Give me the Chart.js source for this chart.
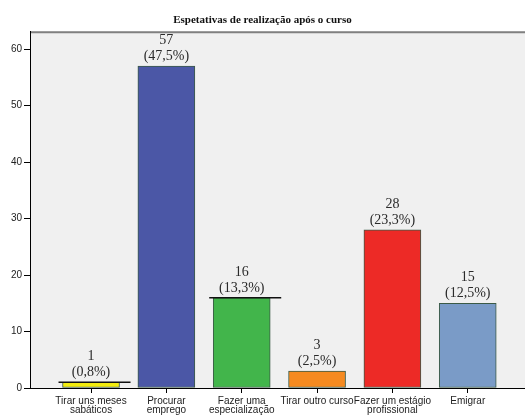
<!DOCTYPE html>
<html>
<head>
<meta charset="utf-8">
<script src="https://cdn.jsdelivr.net/npm/chart.js@4/dist/chart.umd.min.js"></script>
<style>
  body { margin: 0; background: #fff; }
</style>
</head>
<body>
<canvas id="chart" width="525" height="415"></canvas>
<script>
const categories = [
    ['Tirar uns meses', 'sabáticos'],
    ['Procurar', 'emprego'],
    ['Fazer uma', 'especialização'],
    ['Tirar outro curso'],
    ['Fazer um estágio', 'profissional'],
    ['Emigrar']
];
const counts = [1, 57, 16, 3, 28, 15];
const percents = ['0,8%', '47,5%', '13,3%', '2,5%', '23,3%', '12,5%'];
const barColors = ['#f3ec0c', '#4b57a6', '#42b54b', '#f58a20', '#ed2a26', '#7a9bc7'];
const yTicks = [0, 10, 20, 30, 40, 50, 60];
// bars that carry a stray black rule on top in the original
const ruledBars = [0, 2];

// grey plot background + top frame line
const plotBackground = {
    id: 'plotBackground',
    beforeDraw(chart) {
        const { ctx, chartArea } = chart;
        ctx.save();
        ctx.fillStyle = '#f0f0f0';
        ctx.fillRect(chartArea.left, chartArea.top, chartArea.right - chartArea.left, chartArea.bottom - chartArea.top);
        ctx.strokeStyle = '#808080';
        ctx.lineWidth = 2;
        ctx.beginPath();
        ctx.moveTo(chartArea.left, chartArea.top + 1);
        ctx.lineTo(chartArea.right, chartArea.top + 1);
        ctx.stroke();
        ctx.restore();
    }
};

// count and percentage above each bar
const barLabels = {
    id: 'barLabels',
    afterDatasetsDraw(chart) {
        const ctx = chart.ctx;
        const meta = chart.getDatasetMeta(0);
        ctx.save();
        ctx.strokeStyle = '#111';
        ctx.lineWidth = 1.5;
        ruledBars.forEach(i => {
            const bar = meta.data[i];
            ctx.beginPath();
            ctx.moveTo(bar.x - bar.width / 2 - 4, bar.y);
            ctx.lineTo(bar.x + bar.width / 2 + 11, bar.y);
            ctx.stroke();
        });
        ctx.fillStyle = '#2a2a2a';
        ctx.font = '14px "Liberation Serif", serif';
        ctx.textAlign = 'center';
        ctx.textBaseline = 'alphabetic';
        meta.data.forEach((bar, i) => {
            ctx.fillText('(' + percents[i] + ')', bar.x, bar.y - 6);
            ctx.fillText(String(counts[i]), bar.x, bar.y - 22);
        });
        ctx.restore();
    }
};

new Chart(document.getElementById('chart'), {
    type: 'bar',
    data: {
        datasets: [{
            data: counts.map((v, i) => ({ x: i, y: v })),
            backgroundColor: barColors,
            borderColor: '#3b5a46',
            borderWidth: 1,
            borderSkipped: false,
            barThickness: 57
        }]
    },
    options: {
        responsive: false,
        animation: false,
        events: [],
        layout: { padding: 0 },
        plugins: {
            legend: { display: false },
            tooltip: { enabled: false },
            title: {
                display: true,
                text: 'Espetativas de realização após o curso',
                color: '#111',
                font: { family: '"Liberation Serif", serif', size: 11, weight: 'bold' },
                padding: { top: 14, bottom: 4 }
            }
        },
        scales: {
            x: {
                type: 'linear',
                offset: false,
                min: -0.81,
                max: 5.76,
                afterBuildTicks(axis) {
                    axis.ticks = categories.map((c, i) => ({ value: i }));
                },
                afterFit(axis) { axis.height = 27; },
                ticks: {
                    autoSkip: false,
                    maxRotation: 0,
                    padding: 3,
                    color: '#222',
                    font: { family: '"Liberation Sans", Arial, sans-serif', size: 10, lineHeight: 0.95 },
                    callback: (v) => categories[v]
                },
                grid: { offset: false, drawOnChartArea: false, drawTicks: true, tickLength: 5, tickColor: '#000' },
                border: { display: true, color: '#000', width: 1 }
            },
            y: {
                min: 0,
                max: 63.2,
                afterBuildTicks(axis) {
                    axis.ticks = yTicks.map(v => ({ value: v }));
                },
                afterFit(axis) { axis.width = 30; },
                ticks: {
                    padding: 2,
                    color: '#222',
                    font: { family: '"Liberation Sans", Arial, sans-serif', size: 10 }
                },
                grid: { drawOnChartArea: false, drawTicks: true, tickLength: 6, tickColor: '#000' },
                border: { display: true, color: '#000', width: 1 }
            }
        }
    },
    plugins: [plotBackground, barLabels]
});
</script>
</body>
</html>
